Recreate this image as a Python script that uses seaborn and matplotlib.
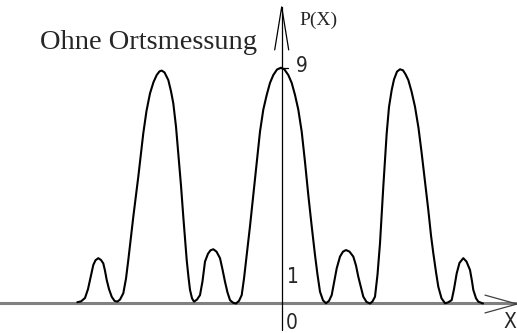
import matplotlib
matplotlib.use("Agg")
import matplotlib.pyplot as plt
import seaborn as sns
import pandas as pd

# Intensity pattern.
# x: distance from the P axis (screen units), p: P(X) in the units of the 9 / 1 marks
x_vals = [-203.7, -200, -196, -193, -191, -187.7, -185.5, -182.7, -180, -177.7,
          -176, -174.3, -172, -169.3, -166.5, -163.7,
          -161, -157.7, -155, -152.7, -147.7, -142.7, -137.7, -134.5, -131,
          -127.5, -124.3, -121.5, -119.3, -116.5, -112.7, -110, -107.7, -105,
          -102.7, -100, -97.7, -94.3, -92.5, -91, -89, -87,
          -84, -81, -78.5, -76, -73, -70.5, -67.7, -64.5, -61, -58.5, -56,
          -53.5, -51, -48, -45,
          -42, -39.3, -37, -34.3, -31, -27.7, -24.3, -21, -17.7, -14.3, -11,
          -7.7, -4, 0, 3.5, 7.3, 10.7, 14, 17.3, 20.7, 24, 27.3, 30.7, 34,
          36.5, 39, 42, 45,
          48, 50.7, 53, 55.7, 59, 62, 65, 68.5, 72.3, 75, 77.3, 80, 82.3,
          85.5, 89,
          91.5, 94, 96.5, 99, 102.3, 105.7, 108, 110.7, 113, 116, 119, 122,
          124.5, 127.3, 130.5, 134, 137.5, 140.7, 144, 147.3, 150, 152.3, 155,
          157.3, 160.5, 164,
          167, 170.7, 173, 175.7, 178.5, 182.3, 185.5, 189, 191, 192.3, 195,
          197.3, 202]
p_vals = [0.05, 0.08, 0.21, 0.55, 0.90, 1.47, 1.65, 1.73, 1.66, 1.53,
          1.25, 0.90, 0.55, 0.26, 0.10, 0.07,
          0.15, 0.39, 0.95, 1.66, 3.31, 4.84, 6.50, 7.35, 8.02,
          8.45, 8.72, 8.86, 8.89, 8.82, 8.53, 8.10, 7.64, 6.75,
          5.73, 4.50, 3.31, 1.66, 1.00, 0.52, 0.20, 0.07,
          0.15, 0.32, 0.85, 1.60, 1.90, 2.03, 2.07, 1.98, 1.73, 1.30, 0.83,
          0.42, 0.13, 0.03, 0.0,
          0.10, 0.32, 0.95, 1.85, 2.95, 4.14, 5.40, 6.56, 7.40, 7.96, 8.42,
          8.72, 8.93, 9.0, 8.93, 8.72, 8.42, 7.96, 7.40, 6.56, 5.40, 4.14,
          2.95, 1.85, 1.10, 0.45, 0.12, 0.01,
          0.10, 0.32, 0.80, 1.34, 1.79, 1.98, 2.04, 1.98, 1.79, 1.45, 1.02,
          0.60, 0.26, 0.06, 0.0,
          0.08, 0.26, 1.10, 2.30, 4.46, 6.50, 7.50, 8.15, 8.55, 8.85, 8.94,
          8.90, 8.75, 8.53, 8.10, 7.51, 6.70, 5.73, 4.65, 3.57, 2.60, 1.92,
          1.20, 0.64, 0.20, 0.01,
          0.04, 0.13, 0.55, 1.15, 1.55, 1.73, 1.60, 1.28, 0.85, 0.52, 0.20,
          0.07, 0.0]

title = "Ohne Ortsmessung"
y_label = "P(X)"
x_label = "X"
tick_labels = ["9", "1", "0"]

df = pd.DataFrame({"x": x_vals, "P": p_vals})

sns.set_style("white")
narrow = ["DejaVu Sans", "Liberation Sans"]
serif = ["Liberation Serif", "DejaVu Serif"]

XLIM = (-281, 236)
YLIM = (-1.126, 11.584)

fig = plt.figure(figsize=(5.17, 3.33), dpi=100)
ax = fig.add_axes([0, 0, 1, 1])

# x axis (gray) with open arrow head
ax.plot([XLIM[0], XLIM[1]], [0, 0], color="#808080", lw=2.2, zorder=1)
ax.plot([204, 236, 204], [0.32, -0.02, -0.36], color="#404040", lw=0.9)

# y axis with narrow open arrow head and the 9 mark
ax.plot([0.7, 0.7], [-1.01, 11.32], color="black", lw=0.9)
ax.plot([-6.3, 0.7, 7.7], [9.68, 11.32, 9.68], color="black", lw=0.9)
ax.plot([-3.5, 6.5], [9, 9], color="black", lw=0.9)

sns.lineplot(data=df, x="x", y="P", color="black", lw=1.5, ax=ax,
             sort=False, estimator=None, zorder=3,
             solid_joinstyle="round", solid_capstyle="round")
ax.set_xlim(*XLIM)
ax.set_ylim(*YLIM)
ax.axis("off")

ax.text(-133, 9.98, title, family=serif, fontsize=20.5,
        ha="center", va="center")
ax.text(37, 10.82, y_label, family=serif, fontsize=14,
        ha="center", va="center")
kw = dict(family=narrow, fontstretch="condensed", fontsize=15,
          ha="center", va="center")
ax.text(21, 9.07, tick_labels[0], **kw)
ax.text(12, 1.01, tick_labels[1], **kw)
ax.text(11, -0.74, tick_labels[2], **kw)
ax.text(235, -0.71, x_label, **{**kw, "ha": "right"})

fig.savefig("out.png", dpi=100)
